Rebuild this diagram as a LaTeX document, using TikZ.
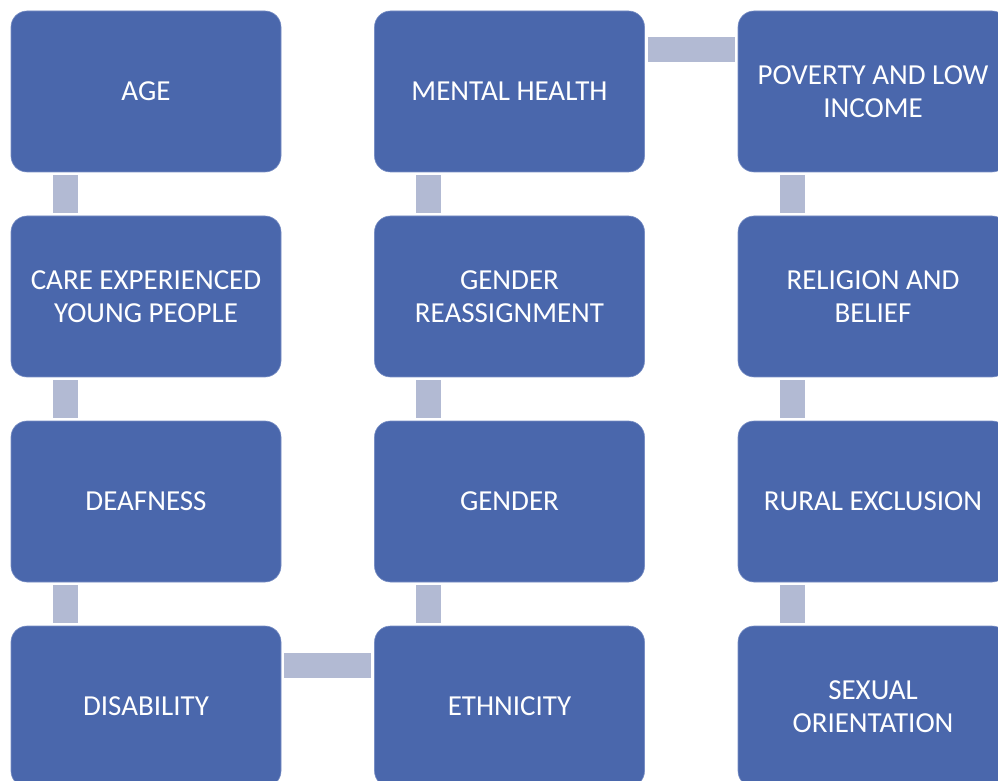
\documentclass[tikz,border=0pt]{standalone}
\usepackage{fontspec}
\setmainfont{Carlito}
\usetikzlibrary{calc}
\definecolor{boxblue}{RGB}{74,103,172}
\definecolor{boxedge}{RGB}{120,142,196}
\definecolor{connblue}{RGB}{178,186,211}
\tikzset{
 item/.style={draw=boxedge, line width=0.6pt, fill=boxblue, rounded corners=16pt,
   minimum width=270pt, minimum height=161pt, inner sep=0pt, text=white,
   font=\fontsize{29}{33}\selectfont, align=center},
 link/.style={draw=connblue, line width=25pt},
}
\begin{document}
\begin{tikzpicture}[x=1pt,y=1pt]
\useasboundingbox (0,0) rectangle (998,780);
\clip (0,0) rectangle (998,780);
% column 1
\node[item] (age) at (146,688.5) {AGE};
\node[item] (care) at (146,483.5) {CARE EXPERIENCED\\YOUNG PEOPLE};
\node[item] (deaf) at (146,278.5) {DEAFNESS};
\node[item] (dis) at (146,73.5) {DISABILITY};
% column 2
\node[item] (mh) at (509.5,688.5) {MENTAL HEALTH};
\node[item] (gr) at (509.5,483.5) {GENDER\\REASSIGNMENT};
\node[item] (gen) at (509.5,278.5) {GENDER};
\node[item] (eth) at (509.5,73.5) {ETHNICITY};
% column 3
\node[item] (pov) at (873,688.5) {POVERTY AND LOW\\INCOME};
\node[item] (rel) at (873,483.5) {RELIGION AND\\BELIEF};
\node[item] (rur) at (873,278.5) {RURAL EXCLUSION};
\node[item] (sex) at (873,73.5) {SEXUAL\\ORIENTATION};
% vertical links
\foreach \a/\b in {age/care,care/deaf,deaf/dis,mh/gr,gr/gen,gen/eth,pov/rel,rel/rur,rur/sex}{
  \draw[link] ($(\a.south west)+(54.5,-3)$) -- ($(\b.north west)+(54.5,3)$);
}
% horizontal links
\draw[link] ($(dis.north east)+(3,-39.5)$) -- ($(eth.north west)+(-3,-39.5)$);
\draw[link] ($(mh.north east)+(3,-39)$) -- ($(pov.north west)+(-3,-39)$);
\end{tikzpicture}
\end{document}
